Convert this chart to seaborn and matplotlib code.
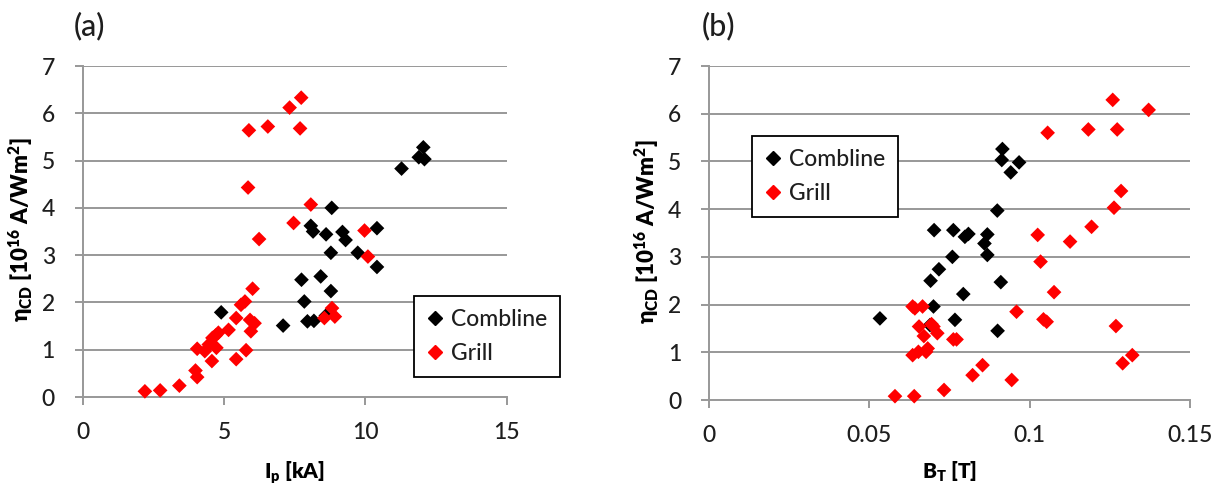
import matplotlib
matplotlib.use("Agg")
import matplotlib.pyplot as plt
from matplotlib import font_manager
import seaborn as sns
import pandas as pd
from matplotlib.lines import Line2D

sns.set_theme(style="white")
plt.rcParams['font.family'] = ['Lato', 'DejaVu Sans']
plt.rcParams['font.weight'] = 'medium'
plt.rcParams['mathtext.default'] = 'regular'
plt.rcParams['mathtext.fallback'] = 'stixsans'

# pick a family that really has a bold face for the bold axis titles
bold_family = 'DejaVu Sans'
for fam in ['Lato', 'Open Sans', 'Roboto', 'Liberation Sans', 'DejaVu Sans']:
    faces = [f for f in font_manager.fontManager.ttflist if f.name == fam]
    if any((isinstance(f.weight, int) and 650 <= f.weight <= 900) or f.weight in ('bold', 'heavy', 'black') for f in faces):
        bold_family = fam
        break

# ---------------- data: panel (a) vs Ip [kA] ----------------
a_comb_ip = [4.9, 7.09, 7.95, 8.18, 7.84, 7.74, 8.42, 8.78, 8.6, 8.07, 8.15, 8.61, 8.81, 8.78,
             9.19, 9.3, 9.73, 10.41, 10.41, 11.28, 11.89, 12.05, 12.09]
a_comb_eta = [1.79, 1.51, 1.6, 1.61, 2.02, 2.48, 2.55, 2.24, 1.72, 3.62, 3.5, 3.44, 4.0, 3.05,
              3.49, 3.32, 3.05, 3.57, 2.75, 4.83, 5.07, 5.28, 5.03]
a_grill_ip = [2.2, 2.74, 3.42, 3.99, 4.05, 4.05, 4.32, 4.46, 4.59, 4.8, 4.73, 4.57, 5.16, 5.43,
              5.43, 5.6, 5.74, 5.78, 5.92, 6.08, 5.95, 6.01, 5.88, 6.55, 7.32, 7.73, 7.69, 5.85,
              6.24, 7.46, 8.07, 9.97, 10.09, 8.55, 8.82, 8.92, 4.7]
a_grill_eta = [0.12, 0.14, 0.24, 0.56, 0.42, 1.02, 0.97, 1.11, 1.25, 1.36, 1.04, 0.76, 1.42, 1.67,
               0.8, 1.95, 2.02, 0.99, 1.63, 1.56, 1.39, 2.29, 5.64, 5.72, 6.12, 6.33, 5.68, 4.43,
               3.34, 3.68, 4.07, 3.52, 2.97, 1.67, 1.88, 1.7, 1.3]

# ---------------- data: panel (b) vs BT [T] ----------------
b_comb_bt = [0.0533, 0.0702, 0.0762, 0.0798, 0.0809, 0.0868, 0.0859, 0.0868, 0.0899, 0.0915,
             0.0913, 0.0967, 0.0941, 0.0759, 0.0717, 0.0691, 0.0793, 0.0700, 0.0767, 0.0689,
             0.0910, 0.0900]
b_comb_eta = [1.71, 3.56, 3.56, 3.42, 3.48, 3.47, 3.28, 3.04, 3.97, 5.26, 5.03, 4.98, 4.77, 3.0,
              2.74, 2.5, 2.22, 1.96, 1.68, 1.57, 2.47, 1.45]
b_grill_bt = [0.058, 0.064, 0.0733, 0.0822, 0.0853, 0.0944, 0.0635, 0.0653, 0.0677, 0.0682,
              0.067, 0.0712, 0.0655, 0.0694, 0.0700, 0.0762, 0.0772, 0.0635, 0.0642, 0.0666,
              0.0959, 0.1043, 0.1053, 0.1076, 0.1034, 0.1025, 0.1126, 0.1193, 0.1263, 0.1285,
              0.1056, 0.1183, 0.1273, 0.1259, 0.1371, 0.1269, 0.129, 0.132]
b_grill_eta = [0.08, 0.08, 0.21, 0.52, 0.73, 0.42, 0.94, 1.01, 1.01, 1.08, 1.34, 1.4, 1.54, 1.59,
               1.54, 1.27, 1.27, 1.96, 1.92, 1.96, 1.85, 1.69, 1.64, 2.26, 2.9, 3.46, 3.32, 3.63,
               4.03, 4.38, 5.6, 5.67, 5.67, 6.29, 6.08, 1.55, 0.77, 0.94]

series_names = ["Combline", "Grill"]
palette = {"Combline": "black", "Grill": "red"}

df_a = pd.DataFrame({
    "x": a_comb_ip + a_grill_ip,
    "eta": a_comb_eta + a_grill_eta,
    "series": ["Combline"] * len(a_comb_ip) + ["Grill"] * len(a_grill_ip),
})
df_b = pd.DataFrame({
    "x": b_comb_bt + b_grill_bt,
    "eta": b_comb_eta + b_grill_eta,
    "series": ["Combline"] * len(b_comb_bt) + ["Grill"] * len(b_grill_bt),
})

W, H = 1229, 486
fig = plt.figure(figsize=(W / 100, H / 100), dpi=100)
ax_a = fig.add_axes([82.7 / W, (H - 397) / H, 424 / W, 331 / H])
ax_b = fig.add_axes([709 / W, (H - 400) / H, 481 / W, 334 / H])

grid_c = "#989898"
text_c = "#1e1e1e"
ylabel = "\u03b7$_{CD}$ [10$^{16}$ A/Wm$^{2}$]"


def style(ax, xlim, xticks, xticklabels, xlabel, ylab_x, xlab_y):
    ax.set_xlim(*xlim)
    ax.set_ylim(0, 7)
    ax.set_xticks(xticks)
    ax.set_xticklabels(xticklabels)
    ax.set_yticks(range(0, 8))
    ax.grid(False)
    for v in range(1, 8):
        ax.axhline(v, color=grid_c, lw=1.4, zorder=0)
    for s in ["top", "right"]:
        ax.spines[s].set_visible(False)
    for s in ["left", "bottom"]:
        ax.spines[s].set_color(grid_c)
        ax.spines[s].set_linewidth(1.4)
    ax.tick_params(axis="both", which="major", direction="out", length=6, width=1.4,
                   color=grid_c, labelsize=16.5, labelcolor=text_c, left=True, bottom=True)
    ax.tick_params(axis="y", pad=14)
    ax.tick_params(axis="x", pad=12)
    ax.set_xlabel(xlabel, fontsize=15, color="black", fontweight="heavy", family=bold_family)
    ax.set_ylabel(ylabel, fontsize=16, color="black", fontweight="heavy", family=bold_family)
    ax.yaxis.set_label_coords(ylab_x, 0.505)
    ax.xaxis.set_label_coords(0.5, xlab_y)


for ax, df in [(ax_a, df_a), (ax_b, df_b)]:
    sns.scatterplot(data=df, x="x", y="eta", hue="series", hue_order=series_names,
                    palette=palette, marker="D", s=56, linewidth=0, ax=ax, legend=False,
                    zorder=3, clip_on=False)

style(ax_a, (0, 15), [0, 5, 10, 15], ["0", "5", "10", "15"],
      "I$_p$ [kA]", (35 - 82.7) / 424, -(460 - 397) / 331)
style(ax_b, (0, 0.15), [0, 0.05, 0.1, 0.15], ["0", "0.05", "0.1", "0.15"],
      "B$_T$ [T]", (661 - 709) / 481, -(460 - 400) / 334)

handles = [Line2D([], [], marker="D", color=palette[n], ls="none", markersize=7.5) for n in series_names]


def add_legend(ax, x0, y0, x1, y1):
    bbox = (x0 / W, 1 - y1 / H, (x1 - x0) / W, (y1 - y0) / H)
    leg = ax.legend(handles, series_names, loc="center left", bbox_to_anchor=bbox,
                    bbox_transform=fig.transFigure, frameon=True, fancybox=False,
                    fontsize=16.5, handlelength=0.7, handletextpad=0.35, labelspacing=0.6,
                    borderpad=0.55, borderaxespad=0, labelcolor=text_c)
    fr = leg.get_frame()
    fr.set_edgecolor("black")
    fr.set_linewidth(1.3)
    fr.set_facecolor("white")
    fr.set_alpha(1)
    leg.set_zorder(5)
    return leg


add_legend(ax_a, 414, 298, 557, 375)
add_legend(ax_b, 752, 135, 896, 218)

fig.text(74 / W, 1 - 26 / H, "(a)", fontsize=22, va="center", ha="left", color=text_c)
fig.text(702 / W, 1 - 26 / H, "(b)", fontsize=22, va="center", ha="left", color=text_c)

fig.savefig("out.png", dpi=100)
